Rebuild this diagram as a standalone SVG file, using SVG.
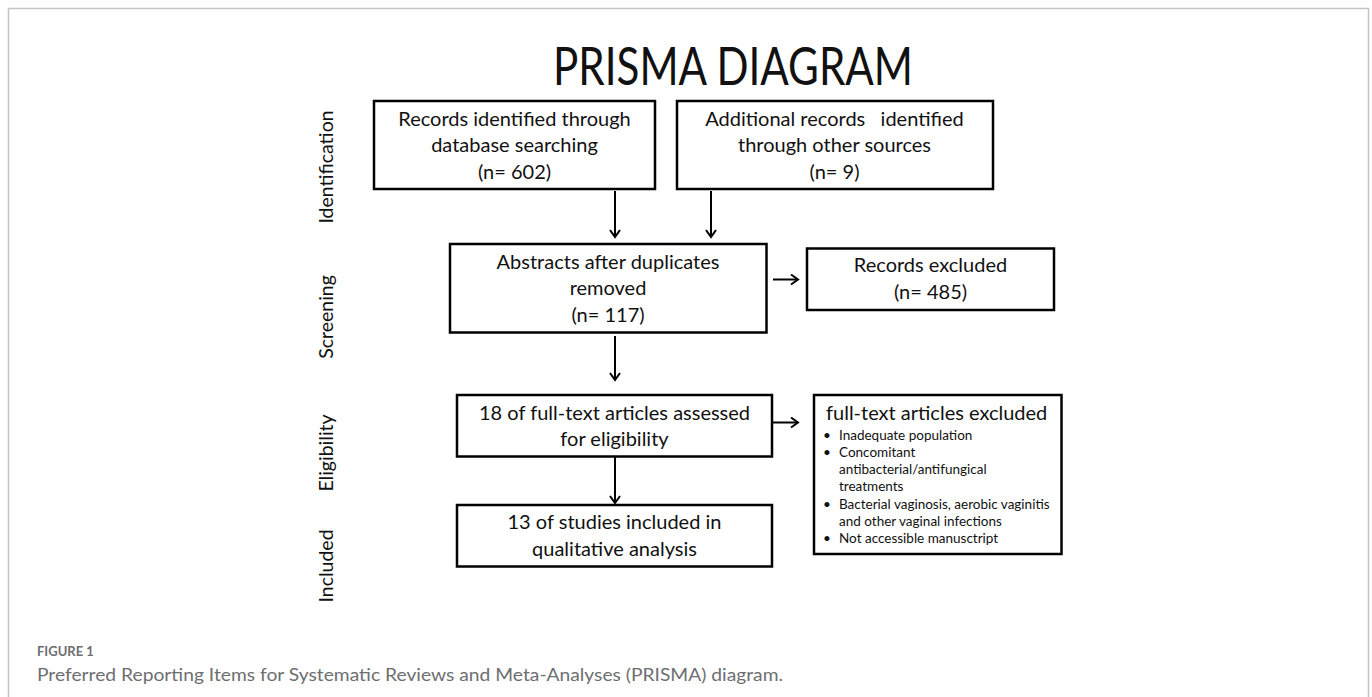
<svg xmlns="http://www.w3.org/2000/svg" width="1372" height="697" viewBox="0 0 1372 697">
  <style>
    .box { fill: #fff; stroke: #000; stroke-width: 2.5; }
    .t { font-family: Lato, "Open Sans", "Liberation Sans", sans-serif; fill: #111; }
    .bt { font-size: 20px; text-anchor: middle; }
    .side { font-size: 19.5px; text-anchor: middle; }
    .small { font-size: 13.5px; }
    .conn { stroke: #000; stroke-width: 2; fill: none; marker-end: url(#arr); }
    .cap { font-family: Lato, "Open Sans", "Liberation Sans", sans-serif; fill: #6d6e71; }
  </style>
  <defs>
    <marker id="arr" markerWidth="12" markerHeight="12" refX="10" refY="6" orient="auto" markerUnits="userSpaceOnUse">
      <path d="M3,1 L10,6 L3,11" fill="none" stroke="#000" stroke-width="2"/>
    </marker>
  </defs>
  <rect width="1372" height="697" fill="#fff"/>
  <path d="M8.5,697 V8.5 H1368.5 V697" fill="none" stroke="#c4c4c4" stroke-width="1.5"/>

  <g id="title">
    <text class="t" x="733" y="85" font-size="52" text-anchor="middle" textLength="360" lengthAdjust="spacingAndGlyphs">PRISMA DIAGRAM</text>
  </g>

  <g id="stage-labels">
    <text class="t side" transform="translate(333,167) rotate(-90)">Identification</text>
    <text class="t side" transform="translate(333,317) rotate(-90)">Screening</text>
    <text class="t side" transform="translate(333,453) rotate(-90)">Eligibility</text>
    <text class="t side" transform="translate(333,566) rotate(-90)">Included</text>
  </g>

  <g id="node-database">
    <rect class="box" x="374" y="101" width="281" height="88"/>
    <text class="t bt" x="514.5" y="125.5">Records identified through</text>
    <text class="t bt" x="514.5" y="152">database searching</text>
    <text class="t bt" x="514.5" y="178.5">(n= 602)</text>
  </g>

  <g id="node-other">
    <rect class="box" x="677" y="101" width="316" height="88"/>
    <text class="t bt" x="834.5" y="125.5" xml:space="preserve">Additional records   identified</text>
    <text class="t bt" x="834.5" y="152">through other sources</text>
    <text class="t bt" x="834.5" y="178.5">(n= 9)</text>
  </g>

  <g id="node-abstracts">
    <rect class="box" x="450" y="244" width="316.5" height="88.5"/>
    <text class="t bt" x="608" y="268.5">Abstracts after duplicates</text>
    <text class="t bt" x="608" y="295">removed</text>
    <text class="t bt" x="608" y="321.5">(n= 117)</text>
  </g>

  <g id="node-records-excluded">
    <rect class="box" x="807" y="248.5" width="247" height="61.5"/>
    <text class="t bt" x="930.5" y="272">Records excluded</text>
    <text class="t bt" x="930.5" y="298.5">(n= 485)</text>
  </g>

  <g id="node-fulltext">
    <rect class="box" x="457" y="395" width="315" height="61.5"/>
    <text class="t bt" x="614.5" y="419.5">18 of full-text articles assessed</text>
    <text class="t bt" x="614.5" y="445.5">for eligibility</text>
  </g>

  <g id="node-fulltext-excluded">
    <rect class="box" x="814" y="395" width="247.5" height="159"/>
    <text class="t" x="826" y="419.5" font-size="20">full-text articles excluded</text>
    <g class="t small">
      <text x="823" y="439.5">•</text><text x="839" y="439.5">Inadequate population</text>
      <text x="823" y="456.5">•</text><text x="839" y="456.5">Concomitant</text>
      <text x="839" y="473.5">antibacterial/antifungical</text>
      <text x="839" y="490.5">treatments</text>
      <text x="823" y="508.5">•</text><text x="839" y="508.5">Bacterial vaginosis, aerobic vaginitis</text>
      <text x="839" y="525.5">and other vaginal infections</text>
      <text x="823" y="543">•</text><text x="839" y="543">Not accessible manusctript</text>
    </g>
  </g>

  <g id="node-included">
    <rect class="box" x="457" y="505" width="315" height="61.5"/>
    <text class="t bt" x="614.5" y="529">13 of studies included in</text>
    <text class="t bt" x="614.5" y="555.5">qualitative analysis</text>
  </g>

  <g id="connectors">
    <line class="conn" x1="615" y1="191" x2="615" y2="237"/>
    <line class="conn" x1="711" y1="191" x2="711" y2="237"/>
    <line class="conn" x1="773" y1="279.5" x2="798" y2="279.5"/>
    <line class="conn" x1="615" y1="336" x2="615" y2="380"/>
    <line class="conn" x1="773" y1="422.5" x2="798" y2="422.5"/>
    <line class="conn" x1="615" y1="457" x2="615" y2="503"/>
  </g>

  <g id="caption">
    <text class="cap" x="37" y="656" font-size="13" font-weight="bold">FIGURE 1</text>
    <text class="cap" x="37" y="681" font-size="18" textLength="746" lengthAdjust="spacingAndGlyphs">Preferred Reporting Items for Systematic Reviews and Meta-Analyses (PRISMA) diagram.</text>
  </g>
</svg>
